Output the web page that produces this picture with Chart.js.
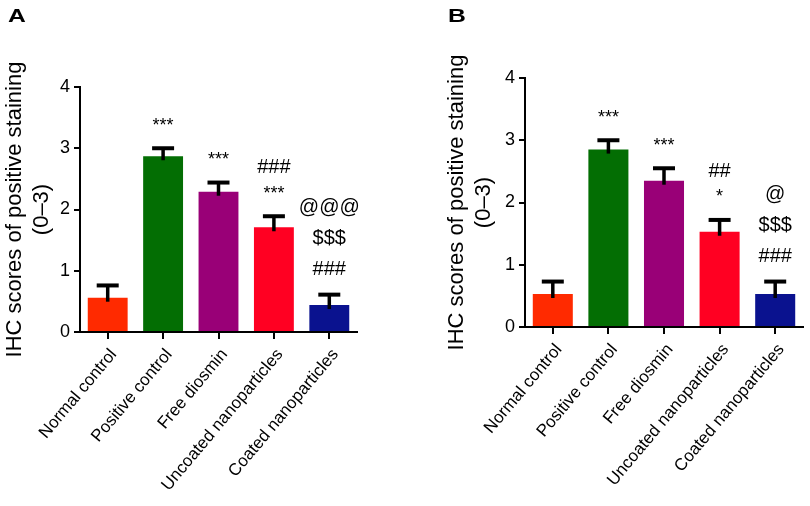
<!DOCTYPE html>
<html><head><meta charset="utf-8">
<script src="https://cdn.jsdelivr.net/npm/chart.js@4"></script>
<style>
html,body{margin:0;padding:0;background:#fff;}
#wrap{position:relative;width:810px;height:506px;overflow:hidden;}
.pane{position:absolute;top:0;width:405px;height:506px;}
.lbl{position:absolute;top:5px;font:bold 19px "Liberation Sans",Arial,sans-serif;color:#000;transform:scaleX(1.3);transform-origin:left top;}
</style></head><body>
<div id="wrap">
<div class="pane" style="left:0"><canvas id="cA" width="405" height="506"></canvas></div>
<div class="pane" style="left:405px"><canvas id="cB" width="405" height="506"></canvas></div>
<div class="lbl" style="left:8px">A</div>
<div class="lbl" style="left:448px">B</div>
</div>
<script>
const categories = ['Normal control', 'Positive control', 'Free diosmin', 'Uncoated nanoparticles', 'Coated nanoparticles'];
const barColors = ['#ff2a00', '#036e03', '#990077', '#ff0022', '#0a128f'];
const meansA = [0.56, 2.87, 2.29, 1.71, 0.44];
const semA   = [0.20, 0.13, 0.15, 0.18, 0.17];
const meansB = [0.53, 2.85, 2.35, 1.53, 0.53];
const semB   = [0.20, 0.15, 0.20, 0.19, 0.20];
const marksA = [[], ['***'], ['***'], ['***', '###'], ['###', '$$$', '@@@']];
const marksB = [[], ['***'], ['***'], ['*', '##'], ['###', '$$$', '@']];
const yTitle = ['IHC scores of positive staining', '(0\u20133)'];
const yMin = 0, yMax = 4, yStep = 1;

const FONT = '"Liberation Sans", Arial, sans-serif';

const errPlugin = {
  id: 'errMarks',
  afterDatasetsDraw(chart, args, opts) {
    const ctx = chart.ctx;
    const meta = chart.getDatasetMeta(0);
    const ys = chart.scales.y;
    ctx.save();
    meta.data.forEach((bar, i) => {
      const v = opts.means[i], e = opts.sem[i];
      const yTop = ys.getPixelForValue(v + e);
      const yBar = ys.getPixelForValue(v);
      ctx.strokeStyle = '#000';
      ctx.lineCap = 'butt';
      ctx.lineWidth = 3.5;
      ctx.beginPath();
      ctx.moveTo(bar.x, yBar + 4);
      ctx.lineTo(bar.x, yTop);
      ctx.stroke();
      ctx.lineWidth = 4;
      ctx.beginPath();
      ctx.moveTo(bar.x - 11, yTop);
      ctx.lineTo(bar.x + 11, yTop);
      ctx.stroke();
      // significance marks, stacked above the error bar
      let center = yTop - 27;
      opts.marks[i].forEach((m) => {
        const star = m.indexOf('*') >= 0;
        ctx.font = (star ? '18px ' : '20px ') + FONT;
        ctx.fillStyle = '#000';
        ctx.textAlign = 'center';
        ctx.textBaseline = 'alphabetic';
        const mt = ctx.measureText(m);
        const asc = mt.actualBoundingBoxAscent, desc = mt.actualBoundingBoxDescent;
        const base = center + (asc - desc) / 2;
        ctx.fillText(m, bar.x, base);
        center -= star ? 23 : 30;
      });
    });
    ctx.restore();
  }
};

function makeChart(id, means, sem, marks, geom) {
  return new Chart(document.getElementById(id), {
    type: 'bar',
    data: {
      labels: categories,
      datasets: [{
        data: means,
        backgroundColor: barColors,
        borderWidth: 0,
        barPercentage: 0.72,
        categoryPercentage: 1.0
      }]
    },
    plugins: [errPlugin],
    options: {
      responsive: false,
      animation: false,
      devicePixelRatio: 1,
      layout: { padding: { top: geom.top, right: geom.right, bottom: 0, left: 0 } },
      plugins: {
        legend: { display: false },
        tooltip: { enabled: false },
        errMarks: { means: means, sem: sem, marks: marks }
      },
      scales: {
        x: {
          offset: true,
          grid: { display: true, offset: false, drawOnChartArea: false, drawTicks: true, tickLength: 7, color: '#000', lineWidth: 2 },
          border: { display: true, color: '#000', width: 2 },
          ticks: { color: '#000', font: { family: FONT, size: 17 }, minRotation: 50, maxRotation: 50, padding: 6, labelOffset: 6, autoSkip: false },
          afterFit: (s) => { s.height = geom.xh; }
        },
        y: {
          min: yMin, max: yMax,
          grid: { display: true, drawOnChartArea: false, drawTicks: true, tickLength: 6, color: '#000', lineWidth: 2 },
          border: { display: true, color: '#000', width: 2 },
          ticks: { stepSize: yStep, color: '#000', font: { family: FONT, size: 18 }, padding: 4 },
          title: { display: true, text: yTitle, color: '#000', font: { family: FONT, size: 22, lineHeight: 1.25 }, padding: { top: geom.tp, bottom: 0 } },
          afterFit: (s) => { s.width = geom.yw; }
        }
      }
    }
  });
}

makeChart('cA', meansA, semA, marksA, { top: 87, right: 48, xh: 174, yw: 80, tp: 1 });
makeChart('cB', meansB, semB, marksB, { top: 78, right: 7, xh: 179, yw: 120, tp: 38 });
</script>
</body></html>
